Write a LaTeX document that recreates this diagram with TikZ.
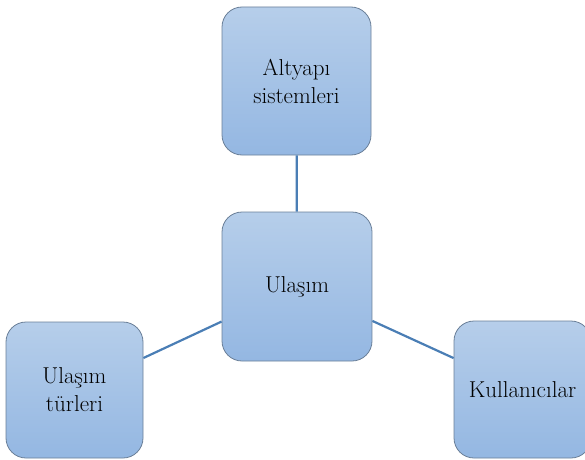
\documentclass[tikz,border=0pt]{standalone}
\usetikzlibrary{shadings}
\definecolor{boxtop}{HTML}{B6CEEA}
\definecolor{boxbot}{HTML}{94B7E2}
\definecolor{boxedge}{HTML}{6A7F98}
\definecolor{linkc}{HTML}{4A7EB5}
\tikzset{
  box/.style={draw=boxedge, line width=0.8pt, rounded corners=20pt,
    top color=boxtop, bottom color=boxbot, inner sep=0pt,
    align=center, font=\fontsize{23}{28}\selectfont, text=black},
  link/.style={draw=linkc, line width=2.2pt}
}
\begin{document}
\begin{tikzpicture}[x=1pt,y=1pt]
\useasboundingbox (0,0) rectangle (585,459);
\clip (0,0) rectangle (585,459);
\node[box, minimum width=149pt, minimum height=148pt] (top) at (296.5,378) {Altyapı\\sistemleri};
\node[box, minimum width=150pt, minimum height=149pt] (mid) at (297,172.5) {Ulaşım};
\node[box, minimum width=137pt, minimum height=136pt] (left) at (74.5,69) {Ulaşım\\türleri};
\node[box, minimum width=137pt, minimum height=137pt] (right) at (522.5,69.5) {Kullanıcılar};
\draw[link] (top) -- (mid);
\draw[link] (mid) -- (left);
\draw[link] (mid) -- (right);
\end{tikzpicture}
\end{document}
